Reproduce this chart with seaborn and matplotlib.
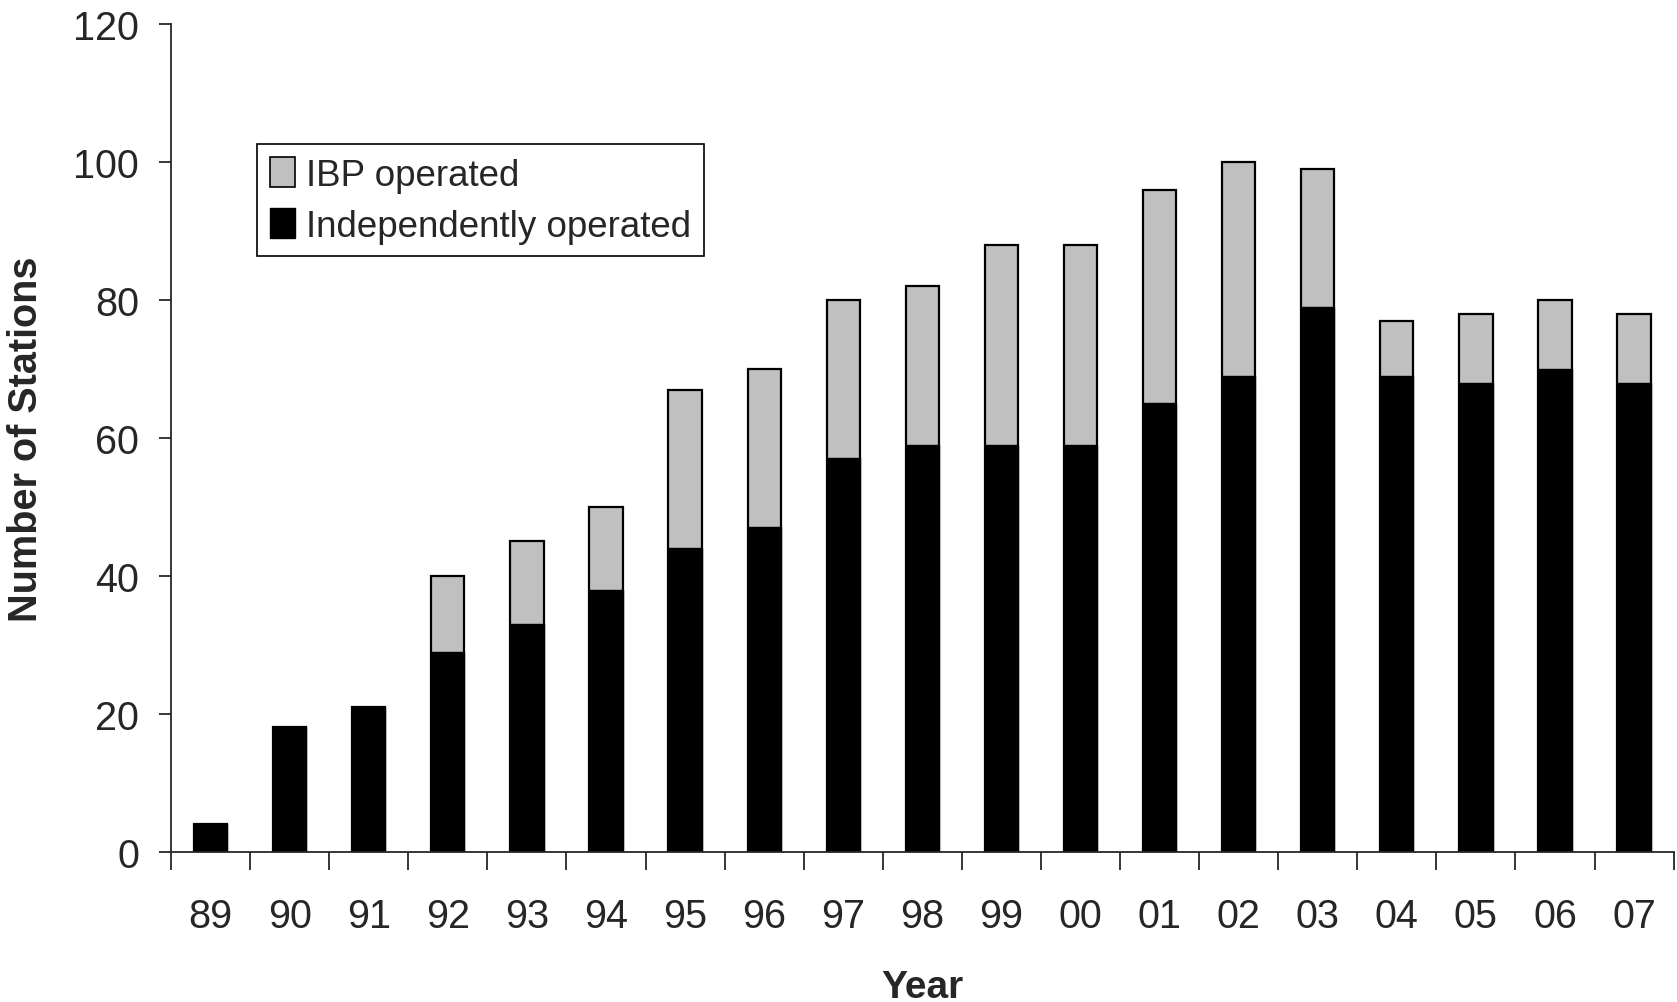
import numpy as np
import pandas as pd
import seaborn as sns
import matplotlib.pyplot as plt
from matplotlib.patches import Patch

years = ['89', '90', '91', '92', '93', '94', '95', '96', '97', '98',
         '99', '00', '01', '02', '03', '04', '05', '06', '07']
independent = [4, 18, 21, 29, 33, 38, 44, 47, 57, 59,
               59, 59, 65, 69, 79, 69, 68, 70, 68]
ibp = [0, 0, 0, 11, 12, 12, 23, 23, 23, 23,
       29, 29, 31, 31, 20, 8, 10, 10, 10]

df = pd.DataFrame({'Year': years, 'Independent': independent, 'IBP': ibp})
df['Total'] = df['Independent'] + df['IBP']

sns.set_style("ticks")
plt.rcParams['font.family'] = ['Liberation Sans', 'DejaVu Sans']

fig = plt.figure(figsize=(16.77, 10.03), dpi=100)
ax = fig.add_axes([0.102, 0.150, 0.896, 0.825])

# stacked bars: total (grey) behind, independent (black) in front
sns.barplot(data=df, x='Year', y='Total', color='#c0c0c0', width=0.42,
            edgecolor='black', linewidth=1.6, saturation=1, ax=ax)
sns.barplot(data=df, x='Year', y='Independent', color='black', width=0.42,
            edgecolor='black', linewidth=1.0, saturation=1, ax=ax)

ax.set_xlim(-0.5, len(years) - 0.5)
ax.set_ylim(0, 120)
ax.set_yticks(np.arange(0, 121, 20))
ax.set_xticks(np.arange(-0.5, len(years), 1.0), minor=True)
ax.tick_params(axis='x', which='major', length=0, pad=33, labelsize=28.5)
ax.tick_params(axis='x', which='minor', length=13, width=1.3, direction='out')
ax.tick_params(axis='y', length=9, width=1.3, pad=14, labelsize=28.5)
sns.despine(ax=ax)
for s in ['left', 'bottom']:
    ax.spines[s].set_linewidth(1.3)

ax.set_xlabel('Year', fontsize=28, fontweight='bold', labelpad=24)
ax.set_ylabel('Number of Stations', fontsize=28.5, fontweight='bold', labelpad=20)

handles = [Patch(facecolor='#c0c0c0', edgecolor='black', linewidth=1.2),
           Patch(facecolor='black', edgecolor='black')]
leg = ax.legend(handles, ['IBP operated', 'Independently operated'],
                loc='upper left', bbox_to_anchor=(0.057, 0.855),
                borderaxespad=0, fontsize=26.5, fancybox=False, framealpha=1,
                edgecolor='black', handlelength=0.7, handleheight=0.9,
                handletextpad=0.3, labelspacing=0.4, borderpad=0.35)
leg.get_frame().set_linewidth(1.2)

fig.savefig('out.png', dpi=100)
